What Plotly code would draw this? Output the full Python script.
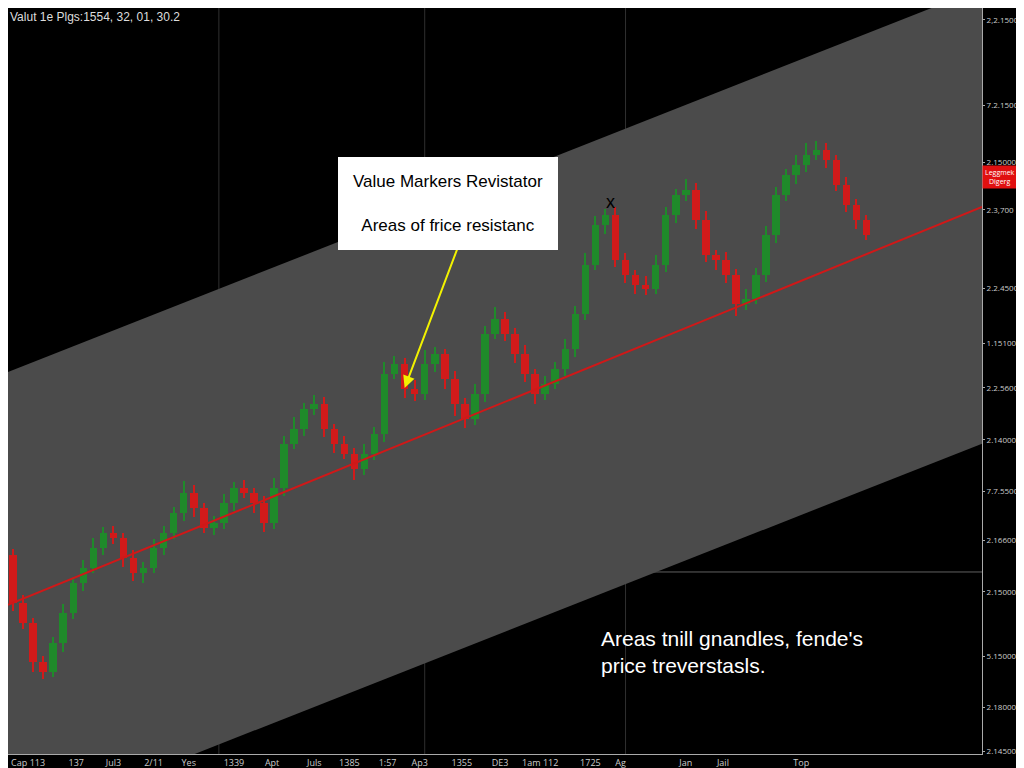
import plotly.graph_objects as go

closes = [170,150,110,100,130,160,190,205,225,240,235,215,200,205,225,240,260,280,265,245,
          250,270,285,280,270,250,285,330,345,365,370,345,330,320,305,320,340,400,410,385,
          380,410,420,395,370,355,380,440,455,440,420,400,380,390,405,425,460,510,550,560,
          515,500,490,485,510,560,580,585,555,520,515,500,470,475,500,540,580,600,610,620,
          625,615,590,570,555,540]
first_open = 218
wick_up = [6,8,5,7,6,9,5,8,10,6,7,5,8,6,9,7,6,12,8,5,7,9,6,8,5,7,10,8,12,6,
           9,7,5,8,6,10,7,12,8,6,9,14,7,5,8,6,10,8,12,7,6,9,5,8,7,10,8,12,9,6,
           8,7,5,9,10,8,6,11,7,9,5,8,6,10,7,9,8,6,10,12,9,7,5,8,6,5]
wick_dn = [8,6,10,7,5,9,6,8,5,7,6,9,8,10,5,7,6,8,9,5,7,6,8,5,10,9,6,8,5,7,
           6,8,9,5,12,7,6,8,5,9,7,6,8,10,12,9,6,8,5,7,9,8,10,6,5,7,8,6,5,9,
           7,8,10,6,5,7,8,6,9,7,10,8,12,6,5,7,8,6,9,7,5,8,6,7,9,5]
opens = [first_open] + closes[:-1]
highs = [max(o, c) + w for o, c, w in zip(opens, closes, wick_up)]
lows = [min(o, c) - w for o, c, w in zip(opens, closes, wick_dn)]
idx = list(range(len(closes)))

band_x = [-0.5, 96.5, 96.5, -0.5]
band_y = [402, 788, 330, -56]
trend_x = [-0.5, 96.5]
trend_y = [168, 568]

y_tickvals = [756, 670, 613, 565, 486, 431, 386, 334, 282, 233, 181, 116, 65, 21]
y_ticktext = ["2,2.1500", "7.2.1500", "2.15000", "2.3,700", "2.2.4500", "1.15100",
              "2.2.5600", "2.14000", "7.7.5500", "2.16600", "2.15000", "5.15000",
              "2.18000", "2.14500"]
x_tickvals = [1.5, 6.3, 10, 14, 17.5, 22, 25.8, 30, 33.5, 37.3, 40.5, 44.7, 48.5, 52.5,
              57.5, 60.5, 67, 70.7, 78.5]
x_ticktext = ["Cap 113", "137", "Jul3", "2/11", "Yes", "1339", "Apt", "Juls", "1385",
              "1:57", "Ap3", "1355", "DE3", "1am 112", "1725", "Ag", "Jan", "Jail", "Top"]

GREEN, RED = "#1f8a2a", "#d11a1a"
colors = [GREEN if c >= o else RED for o, c in zip(opens, closes)]

fig = go.Figure()
path = "M " + " L ".join(f"{x},{y}" for x, y in zip(band_x, band_y)) + " Z"
fig.add_shape(type="path", path=path, xref="x", yref="y", fillcolor="#4b4b4b",
              line=dict(width=0), layer="below")
fig.add_shape(type="line", xref="paper", x0=0, x1=1, yref="y", y0=201, y1=201,
              line=dict(color="#8a8a8a", width=1), opacity=0.7, layer="below")
for xv in [20.5, 41, 61]:
    fig.add_shape(type="line", yref="paper", y0=0, y1=1, xref="x", x0=xv, x1=xv,
                  line=dict(color="#777777", width=1), opacity=0.4, layer="below")
fig.add_trace(go.Bar(x=idx, y=[h - l for h, l in zip(highs, lows)], base=lows,
                     width=0.12, marker=dict(color=colors, line=dict(width=0)),
                     hoverinfo="skip"))
fig.add_trace(go.Bar(x=idx, y=[max(abs(c - o), 2) for o, c in zip(opens, closes)],
                     base=[min(o, c) for o, c in zip(opens, closes)],
                     width=0.75, marker=dict(color=colors, line=dict(width=0))))
fig.add_trace(go.Scatter(x=trend_x, y=trend_y, mode="lines",
                         line=dict(color="#d01818", width=2), hoverinfo="skip"))

fig.add_annotation(x=39, y=386, ax=46.2, ay=578, axref="x", ayref="y",
                   xref="x", yref="y", text="", showarrow=True, arrowhead=2,
                   arrowcolor="#f2f200", arrowwidth=2, arrowsize=1.2)
fig.add_annotation(x=0.452, y=0.8, xref="paper", yref="paper", showarrow=False,
                   text="Value Markers Revistator<br><br>Areas of frice resistanc",
                   font=dict(color="black", size=17, family="Liberation Sans"),
                   bgcolor="white", bordercolor="white", borderpad=14, align="center")
fig.add_annotation(x=59.5, y=573, xref="x", yref="y", text="x", showarrow=False,
                   font=dict(color="black", size=18, family="Liberation Sans"))
fig.add_annotation(x=0.607, y=0.1, xref="paper", yref="paper", showarrow=False,
                   xanchor="left", align="left",
                   text="Areas tnill gnandles, fende's<br>price treverstasls.",
                   font=dict(color="white", size=21, family="Liberation Sans"))
fig.add_annotation(x=1.0, y=0.79, xref="paper", yref="paper", showarrow=False,
                   xanchor="left", text="Leggmek<br>Digerg", bgcolor="#e01010",
                   font=dict(color="white", size=7), borderpad=2)
fig.add_annotation(x=0.0, y=1.0, xref="paper", yref="paper", showarrow=False,
                   xanchor="left", yanchor="top", text="Valut 1e Plgs:1554, 32, 01, 30.2",
                   font=dict(color="#dddddd", size=12, family="Liberation Sans"))

fig.update_layout(
    width=1024, height=768, paper_bgcolor="black", plot_bgcolor="black",
    margin=dict(l=0, r=50, t=0, b=22), showlegend=False, bargap=0, barmode="overlay",
    xaxis=dict(range=[-0.5, 96.5], tickvals=x_tickvals,
               ticktext=x_ticktext, tickfont=dict(color="#cccccc", size=9),
               showgrid=False, zeroline=False, showline=True, linecolor="#aaaaaa",
               ticks="", ticklen=0),
    yaxis=dict(range=[18, 768], side="right", tickvals=y_tickvals, ticktext=y_ticktext,
               tickfont=dict(color="#cccccc", size=8), showgrid=False, zeroline=False,
               showline=True, linecolor="#aaaaaa", ticks="outside", tickcolor="#aaaaaa",
               ticklen=2),
)

fig.write_html("out.html")
